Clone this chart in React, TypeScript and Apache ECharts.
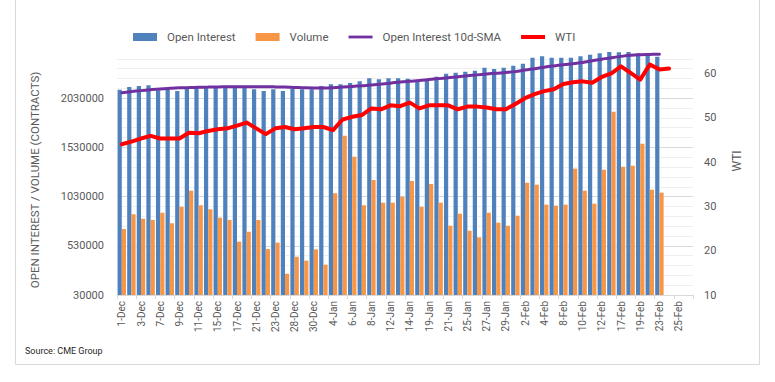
import React, { useEffect, useRef } from "react";
import * as echarts from "echarts";

const categories = [
  "1-Dec", "2-Dec", "3-Dec", "4-Dec", "7-Dec", "8-Dec", "9-Dec", "10-Dec", "11-Dec", "14-Dec",
  "15-Dec", "16-Dec", "17-Dec", "18-Dec", "21-Dec", "22-Dec", "23-Dec", "24-Dec", "28-Dec", "29-Dec",
  "30-Dec", "31-Dec", "4-Jan", "5-Jan", "6-Jan", "7-Jan", "8-Jan", "11-Jan", "12-Jan", "13-Jan",
  "14-Jan", "15-Jan", "19-Jan", "20-Jan", "21-Jan", "22-Jan", "25-Jan", "26-Jan", "27-Jan", "28-Jan",
  "29-Jan", "1-Feb", "2-Feb", "3-Feb", "4-Feb", "5-Feb", "8-Feb", "9-Feb", "10-Feb", "11-Feb",
  "12-Feb", "16-Feb", "17-Feb", "18-Feb", "19-Feb", "22-Feb", "23-Feb", "24-Feb", "25-Feb", "26-Feb",
];

const openInterest = [
  2116000, 2144000, 2154000, 2161000, 2110000, 2120000, 2103000, 2127000, 2141000, 2144000,
  2154000, 2144000, 2137000, 2137000, 2120000, 2103000, 2120000, 2103000, 2127000, 2120000,
  2120000, 2154000, 2171000, 2171000, 2185000, 2202000, 2232000, 2222000, 2232000, 2232000,
  2228000, 2208000, 2218000, 2249000, 2279000, 2289000, 2299000, 2310000, 2340000, 2327000,
  2340000, 2360000, 2381000, 2442000, 2456000, 2442000, 2442000, 2442000, 2456000, 2472000,
  2486000, 2500000, 2497000, 2500000, 2486000, 2469000, 2452000,
];

const volume = [
  701000, 850000, 805000, 792000, 866000, 759000, 927000, 1090000, 942000, 901000,
  816000, 792000, 572000, 673000, 792000, 497000, 562000, 246000, 419000, 379000,
  494000, 338000, 1064000, 1649000, 1436000, 942000, 1199000, 968000, 968000, 1029000,
  1189000, 927000, 1158000, 968000, 734000, 856000, 683000, 616000, 866000, 765000,
  734000, 836000, 1171000, 1151000, 948000, 938000, 948000, 1314000, 1090000, 958000,
  1303000, 1893000, 1334000, 1344000, 1568000, 1100000, 1070000,
];

const oiSma10 = [
  2086000, 2097000, 2107000, 2116000, 2124000, 2130000, 2135000, 2138000, 2141000, 2143000,
  2145000, 2146000, 2147000, 2147000, 2146000, 2146000, 2145000, 2143000, 2140000, 2136000,
  2134000, 2134000, 2137000, 2143000, 2150000, 2156000, 2163000, 2173000, 2183000, 2195000,
  2203000, 2210000, 2220000, 2229000, 2239000, 2249000, 2258000, 2267000, 2276000, 2284000,
  2291000, 2300000, 2316000, 2330000, 2345000, 2358000, 2370000, 2381000, 2392000, 2410000,
  2426000, 2442000, 2455000, 2466000, 2472000, 2475000, 2477000,
];

const wti = [
  44.0, 44.6, 45.3, 45.9, 45.3, 45.3, 45.3, 46.6, 46.5, 47.0,
  47.4, 47.6, 48.2, 48.9, 47.6, 46.3, 47.6, 47.9, 47.4, 47.6,
  47.9, 47.9, 47.2, 49.6, 50.2, 50.6, 52.1, 51.9, 52.8, 52.6,
  53.4, 52.1, 52.8, 52.8, 52.8, 51.9, 52.5, 52.5, 52.3, 51.9,
  51.9, 53.1, 54.4, 55.3, 56.0, 56.4, 57.6, 58.0, 58.2, 57.9,
  59.2, 60.0, 61.6, 60.1, 58.6, 62.0, 60.9, 61.1,
];

const LEFT_MIN = 30000;
const LEFT_MAX = 2530000;
const LEFT_MAJOR = 500000;
const LEFT_MINOR = 100000;
const RIGHT_MIN = 10;
const RIGHT_MAX = 65.5;

const FONT = "Roboto, 'Noto Sans', sans-serif";
const TEXT = "#595959";

export default function App() {
  const ref = useRef<HTMLDivElement>(null);

  useEffect(() => {
    if (!ref.current) return;
    const chart = echarts.init(ref.current, undefined, { renderer: "svg" });
    const minorColor = "#efefef";
    chart.setOption({
      animation: false,
      backgroundColor: "#ffffff",
      textStyle: { fontFamily: FONT },
      grid: { left: 117, right: 82, top: 49, bottom: 87, containLabel: false },
      legend: {
        left: 133,
        top: 31,
        padding: 0,
        itemWidth: 24,
        itemHeight: 8,
        itemGap: 20,
        textStyle: { color: TEXT, fontSize: 11.5, fontFamily: FONT, padding: [0, 0, 0, 5] },
        data: [
          { name: "Open Interest", icon: "rect" },
          { name: "Volume", icon: "rect" },
          { name: "Open Interest 10d-SMA", icon: "path://M0,0 M24,8 M0,2.6 L24,2.6 L24,5.4 L0,5.4 Z" },
          { name: "WTI", icon: "path://M0,0 M24,8 M0,2 L24,2 L24,6 L0,6 Z" },
        ],
      },
      xAxis: {
        type: "category",
        data: categories,
        boundaryGap: true,
        axisLine: { show: true, lineStyle: { color: "#d9d9d9", width: 1 } },
        axisTick: { show: true, interval: 1, length: 4, lineStyle: { color: "#d9d9d9" } },
        axisLabel: {
          interval: 1,
          rotate: 90,
          margin: 6,
          color: TEXT,
          fontSize: 10,
          fontFamily: FONT,
        },
        splitLine: { show: false },
      },
      yAxis: [
        {
          type: "value",
          min: LEFT_MIN,
          max: LEFT_MAX,
          interval: LEFT_MINOR,
          axisLine: { show: false },
          axisTick: { show: false },
          axisLabel: {
            color: TEXT,
            fontSize: 11,
            fontFamily: FONT,
            margin: 13,
            formatter: (v: number) =>
              (v - LEFT_MIN) % LEFT_MAJOR === 0 && v < LEFT_MAX ? String(v) : "",
          },
          splitLine: {
            show: true,
            showMaxLine: false,
            lineStyle: {
              color: ["#d9d9d9", minorColor, minorColor, minorColor, minorColor],
              width: 1,
            },
          },
        },
        {
          type: "value",
          min: RIGHT_MIN,
          max: RIGHT_MAX,
          interval: 10,
          position: "right",
          axisLine: { show: false },
          axisTick: { show: false },
          axisLabel: {
            color: TEXT,
            fontSize: 11,
            fontFamily: FONT,
            margin: 11,
            formatter: (v: number) => (v % 10 === 0 ? String(v) : ""),
          },
          splitLine: { show: false },
        },
      ],
      series: [
        {
          name: "Open Interest",
          type: "bar",
          data: openInterest,
          yAxisIndex: 0,
          barGap: "0%",
          barCategoryGap: "12%",
          itemStyle: { color: "#4F81BD" },
        },
        {
          name: "Volume",
          type: "bar",
          data: volume,
          yAxisIndex: 0,
          barGap: "0%",
          barCategoryGap: "12%",
          itemStyle: { color: "#F79646" },
        },
        {
          name: "Open Interest 10d-SMA",
          type: "line",
          data: oiSma10,
          yAxisIndex: 0,
          symbol: "none",
          smooth: 0.4,
          lineStyle: { color: "#7030A0", width: 3, cap: "round" },
          itemStyle: { color: "#7030A0" },
          z: 3,
        },
        {
          name: "WTI",
          type: "line",
          data: wti,
          yAxisIndex: 1,
          symbol: "none",
          lineStyle: { color: "#FF0000", width: 4, join: "round", cap: "round" },
          itemStyle: { color: "#FF0000" },
          z: 4,
        },
      ],
      graphic: [
        {
          type: "polyline",
          silent: true,
          shape: { points: [[15.5, 0], [15.5, 364.5], [759.5, 364.5], [759.5, 0]] },
          style: { stroke: "#d9d9d9", fill: "none", lineWidth: 1 },
        },
        {
          type: "text",
          x: 35,
          y: 180,
          rotation: Math.PI / 2,
          style: {
            text: "OPEN INTEREST / VOLUME (CONTRACTS)",
            fill: TEXT,
            font: `11.5px ${FONT}`,
            align: "center",
            verticalAlign: "middle",
          },
        },
        {
          type: "text",
          x: 737,
          y: 161,
          rotation: Math.PI / 2,
          style: {
            text: "WTI",
            fill: TEXT,
            font: `12px ${FONT}`,
            align: "center",
            verticalAlign: "middle",
          },
        },
        {
          type: "text",
          x: 25,
          y: 351,
          style: {
            text: "Source: CME Group",
            fill: "#262626",
            font: `9px ${FONT}`,
            align: "left",
            verticalAlign: "middle",
          },
        },
      ],
    });
    return () => chart.dispose();
  }, []);

  return (
    <div
      ref={ref}
      style={{ position: "absolute", left: 0, top: 0, width: 775, height: 382, background: "#fff" }}
    />
  );
}
